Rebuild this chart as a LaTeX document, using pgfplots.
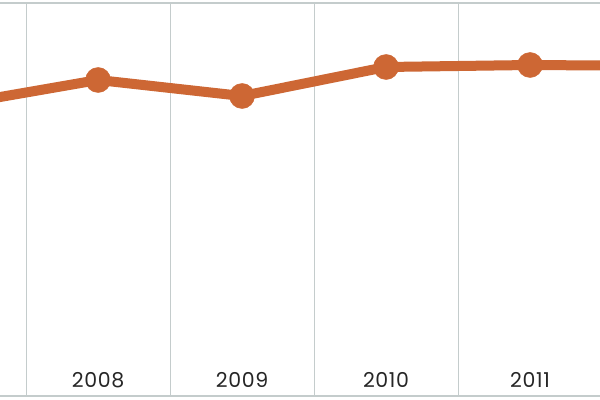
\documentclass[border=0pt]{standalone}
\usepackage{pgfplots}
\pgfplotsset{compat=1.18}
\usepackage{fontspec}
\setmainfont{Poppins}[LetterSpace=3]
\definecolor{lineor}{RGB}{205,103,52}
\definecolor{gridg}{RGB}{196,204,204}
\begin{document}
\begin{tikzpicture}
\useasboundingbox (0,-4bp) rectangle (600bp,396bp);
\begin{axis}[
  at={(0,0)}, anchor=south west,
  scale only axis, width=600bp, height=393bp,
  xmin=2007.319, xmax=2011.486, ymin=0, ymax=393,
  separate axis lines,
  y axis line style={draw=none},
  x axis line style={draw=gridg, line width=1.5bp},
  ytick=\empty,
  xtick={2008,2009,2010,2011},
  xticklabels={2008,2009,2010,2011},
  major tick length=0pt,
  xticklabel style={anchor=base, yshift=9bp, font=\fontsize{20.5bp}{24bp}\selectfont, text=black!85},
  extra x ticks={2007.5,2008.5,2009.5,2010.5},
  extra x tick labels={},
  extra x tick style={grid=major, major grid style={draw=gridg, line width=1bp}},
  clip=true,
]
\addplot[lineor, line width=10bp, mark=*, mark size=12.5bp, mark options={line width=0.5bp, fill=lineor, draw=lineor}]
  coordinates {(2007,291) (2008,316) (2009,300) (2010,329) (2011,331) (2012,330)};
\end{axis}
\end{tikzpicture}
\end{document}
